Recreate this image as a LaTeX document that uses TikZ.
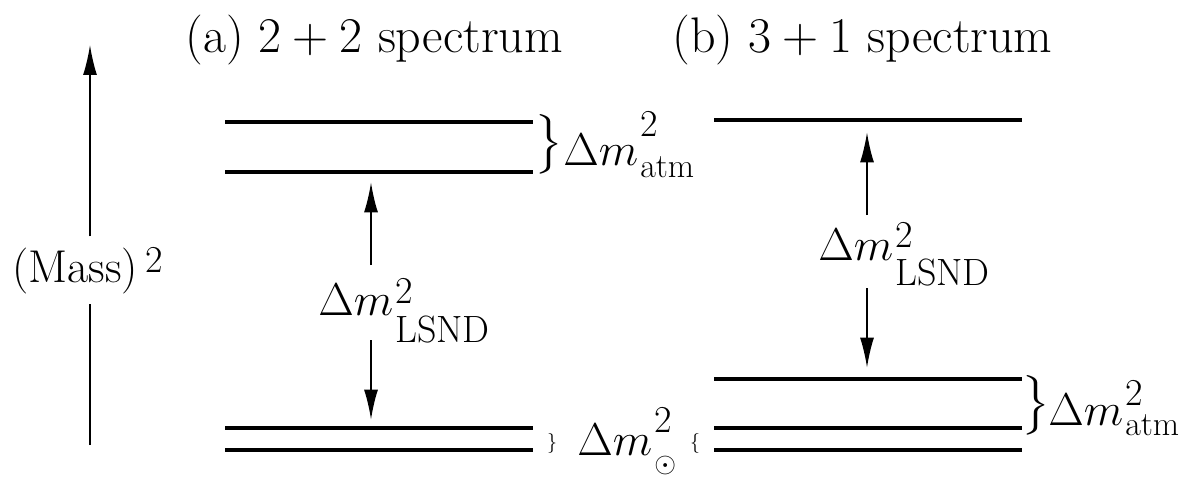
\RequirePackage{fix-cm}
\documentclass[tikz,border=0pt]{standalone}
\usepackage{amsmath}
\usetikzlibrary{positioning,arrows.meta,calc}
\DeclareMathSizes{23}{23}{19}{14}
\DeclareMathSizes{25}{25}{20}{15}
\newcommand{\labfont}{\fontsize{23}{27}\selectfont}
\newcommand{\ttlfont}{\fontsize{25}{29}\selectfont}
% #1 raise of the 2, #2 raise of the index, #3 index size, #4 index
\newcommand{\dmsq}[4]{$\Delta m$\kern1pt\rlap{\raisebox{#1}{\fontsize{19}{21}\selectfont 2}}%
  \raisebox{#2}{\fontsize{#3}{#3}\selectfont #4}}

\begin{document}
\begin{tikzpicture}[
  x=0.5pt, y=-0.5pt,
  level/.style={fill=black, inner sep=0pt, minimum width=154pt, minimum height=2pt},
  arr/.style={-{Latex[length=15pt,width=7pt]}, line width=0.8pt},
  lab/.style={font=\labfont, inner sep=0pt, anchor=base west},
  ttl/.style={font=\ttlfont, inner sep=0pt, anchor=base west},
  brc/.style={font=\labfont, inner sep=0pt},
  tinybrc/.style={font=\fontsize{10}{12}\selectfont, inner sep=0pt},
]
\useasboundingbox (0,0) rectangle (1203,476);
% titles
\node[ttl] (ttlA) at (185,53) {(a) $2+2$ spectrum};
\node[ttl] (ttlB) at (672,53) {(b) $3+1$ spectrum};
% mass axis
\coordinate (axbot) at (90,445);
\coordinate (axtop) at (90,45);
\node[font=\labfont, anchor=base west, inner sep=5pt] (mass) at (2,282)
  {(Mass)\,\raisebox{5pt}{\fontsize{19}{21}\selectfont 2}};
\draw[line width=0.8pt] (axbot) -- (axbot |- mass.south);
\draw[arr] (axtop |- mass.north) -- (axtop);
% (a) levels
\node[level] (a1) at (379,122) {};
\node[level] (a2) at (379,172) {};
\node[level] (a3) at (379,428) {};
\node[level] (a4) at (379,450) {};
% (b) levels
\node[level] (b1) at (868,120) {};
\node[level] (b2) at (868,379) {};
\node[level] (b3) at (868,428) {};
\node[level] (b4) at (868,450) {};
% LSND gaps
\node[lab] (lsndA) at (318,315) {\dmsq{6pt}{-13.5pt}{19}{LSND}};
\node[lab] (lsndB) at (818,260) {\dmsq{6.5pt}{-12.5pt}{19}{LSND}};
\coordinate (upA) at (371,265);
\coordinate (dnA) at (371,340);
\coordinate (upB) at (867,215);
\coordinate (dnB) at (867,288);
\draw[arr, shorten >=4pt] (upA) -- (upA |- a2.south);
\draw[arr, shorten >=3pt] (dnA) -- (dnA |- a3.north);
\draw[arr, shorten >=5pt] (upB) -- (upB |- b1.south);
\draw[arr, shorten >=4.5pt] (dnB) -- (dnB |- b2.north);
% atm splittings
\node[brc] (brA) at (549,144) {$\big\}$};
\node[lab] (atmA) at (563,165) {\dmsq{14.5pt}{-6pt}{17}{atm}};
\node[brc] (brB) at (1036,405) {$\big\}$};
\node[lab] (atmB) at (1048,425) {\dmsq{10pt}{-5pt}{17}{atm}};
% solar splitting
\node[tinybrc] (solL) at (552,443) {$\}$};
\node[lab] (sol) at (577,455) {\dmsq{11.5pt}{-8.8pt}{14}{$\odot$}};
\node[tinybrc] (solR) at (695,443) {$\{$};
\end{tikzpicture}
\end{document}
